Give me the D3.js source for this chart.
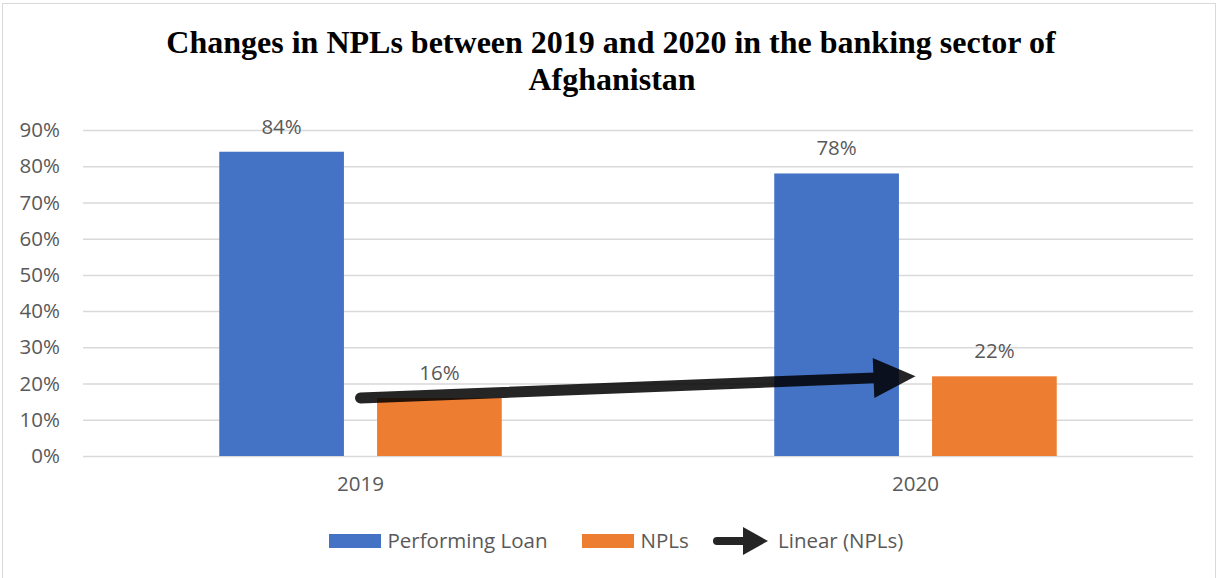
<!DOCTYPE html>
<html>
<head>
<meta charset="utf-8">
<script src="https://cdn.jsdelivr.net/npm/d3@7"></script>
<style>
  body { margin: 0; background: #fff; }
  text { font-family: "Open Sans", sans-serif; fill: #595959; }
  .title { font-family: "Liberation Serif", "Times New Roman", serif; font-weight: bold; fill: #000; }
</style>
</head>
<body>
<svg width="1222" height="578"></svg>
<script>
const categories = ['2019', '2020'];
const seriesNames = ['Performing Loan', 'NPLs'];
const performingLoan = [84, 78];
const npls = [16, 22];
const yTicks = [0, 10, 20, 30, 40, 50, 60, 70, 80, 90];
const colors = ['#4472c4', '#ed7d31'];

const svg = d3.select('svg');
const width = +svg.attr('width');
const height = +svg.attr('height');
const fontSize = '20.5px';

// chart border
svg.append('rect')
  .attr('x', 2.5).attr('y', 3.5)
  .attr('width', 1213).attr('height', 580)
  .attr('fill', 'none')
  .attr('stroke', '#d9d9d9');

// title
const title = svg.append('text')
  .attr('class', 'title')
  .attr('text-anchor', 'middle')
  .style('font-size', '32px');
title.append('tspan').attr('x', 611).attr('y', 53).text('Changes in NPLs between 2019 and 2020 in the banking sector of');
title.append('tspan').attr('x', 612).attr('y', 90).text('Afghanistan');

const margin = { left: 83, top: 130, right: 29, bottom: 122 };
const innerWidth = width - margin.left - margin.right;
const innerHeight = height - margin.top - margin.bottom;

const g = svg.append('g')
  .attr('transform', `translate(${margin.left}, ${margin.top})`);

//scales
const yScale = d3.scaleLinear()
  .domain([0, 90])
  .range([innerHeight, 0]);

const xScale = d3.scaleBand()
  .domain(categories)
  .range([0, innerWidth]);

const groupWidth = xScale.bandwidth() * 0.509;
const xSub = d3.scaleBand()
  .domain(seriesNames)
  .range([0, groupWidth])
  .paddingInner(0.21);

//grid + y labels
const yAxis = d3.axisLeft(yScale)
  .tickValues(yTicks)
  .tickFormat(d => d + '%')
  .tickSize(-innerWidth)
  .tickPadding(23);
const yAxisG = g.append('g').call(yAxis).attr('font-size', null).attr('font-family', null);
yAxisG.select('.domain').remove();
yAxisG.selectAll('.tick line').attr('stroke', '#d9d9d9').attr('stroke-width', 1.5);
yAxisG.selectAll('.tick text').style('font-size', fontSize).attr('fill', '#595959');

//x labels
const xAxisG = g.append('g')
  .attr('transform', `translate(0, ${innerHeight})`)
  .call(d3.axisBottom(xScale).tickSize(0).tickPadding(20))
  .attr('font-size', null).attr('font-family', null);
xAxisG.select('.domain').remove();
xAxisG.selectAll('.tick text').style('font-size', fontSize).attr('fill', '#595959');

//bars
const rows = categories.map((c, i) => ({
  category: c,
  values: [performingLoan[i], npls[i]]
}));

const groups = g.selectAll('.group').data(rows)
  .enter().append('g')
    .attr('class', 'group')
    .attr('transform', d => `translate(${xScale(d.category) + (xScale.bandwidth() - groupWidth) / 2}, 0)`);

groups.selectAll('rect').data(d => d.values.map((v, j) => ({ name: seriesNames[j], value: v, j })))
  .enter().append('rect')
    .attr('x', d => xSub(d.name))
    .attr('y', d => yScale(d.value))
    .attr('width', xSub.bandwidth())
    .attr('height', d => innerHeight - yScale(d.value))
    .attr('fill', d => colors[d.j]);

groups.selectAll('.label').data(d => d.values.map((v, j) => ({ name: seriesNames[j], value: v })))
  .enter().append('text')
    .attr('class', 'label')
    .attr('x', d => xSub(d.name) + xSub.bandwidth() / 2)
    .attr('y', d => yScale(d.value) - 18)
    .attr('text-anchor', 'middle')
    .style('font-size', fontSize)
    .text(d => d.value + '%');

//linear trendline for NPLs (two points -> passes through both)
const n = npls.length;
const xs = d3.range(n);
const mx = d3.mean(xs), my = d3.mean(npls);
const slope = d3.sum(xs, (x, i) => (x - mx) * (npls[i] - my)) / d3.sum(xs, x => (x - mx) * (x - mx));
const icpt = my - slope * mx;
const cx = i => xScale(categories[i]) + xScale.bandwidth() / 2;
const x1 = cx(0), y1 = yScale(icpt);
const x2 = cx(n - 1), y2 = yScale(icpt + slope * (n - 1));

const ang = Math.atan2(y2 - y1, x2 - x1);
const headLen = 42, headW = 20;
const bx = x2 - headLen * Math.cos(ang), by = y2 - headLen * Math.sin(ang);
const trend = g.append('g').attr('opacity', 0.85);
trend.append('line')
  .attr('x1', x1).attr('y1', y1)
  .attr('x2', bx + 2 * Math.cos(ang)).attr('y2', by + 2 * Math.sin(ang))
  .attr('stroke', '#000')
  .attr('stroke-width', 11)
  .attr('stroke-linecap', 'round');
trend.append('path')
  .attr('d', `M${x2},${y2}` +
    `L${bx - headW * Math.sin(ang)},${by + headW * Math.cos(ang)}` +
    `L${bx + headW * Math.sin(ang)},${by - headW * Math.cos(ang)}Z`)
  .attr('fill', '#000');

//legend
const legend = svg.append('g').attr('transform', 'translate(0, 541)');
const legendItems = [
  { name: 'Performing Loan', type: 'rect', color: colors[0], x: 329 },
  { name: 'NPLs', type: 'rect', color: colors[1], x: 582 },
  { name: 'Linear (NPLs)', type: 'arrow', x: 713 }
];
legendItems.forEach(item => {
  const li = legend.append('g').attr('transform', `translate(${item.x}, 0)`);
  let tx;
  if (item.type === 'rect') {
    li.append('rect').attr('x', 0).attr('y', -7).attr('width', 52).attr('height', 14).attr('fill', item.color);
    tx = 58.5;
  } else {
    const lg = li.append('g').attr('opacity', 0.85);
    lg.append('line').attr('x1', 4).attr('y1', 0).attr('x2', 32).attr('y2', 0)
      .attr('stroke', '#000').attr('stroke-width', 8).attr('stroke-linecap', 'round');
    lg.append('path').attr('d', 'M55,0L30,-14L30,14Z').attr('fill', '#000');
    tx = 65;
  }
  li.append('text')
    .attr('x', tx).attr('y', 0)
    .attr('dy', '0.35em')
    .style('font-size', fontSize)
    .text(item.name);
});
</script>
</body>
</html>
